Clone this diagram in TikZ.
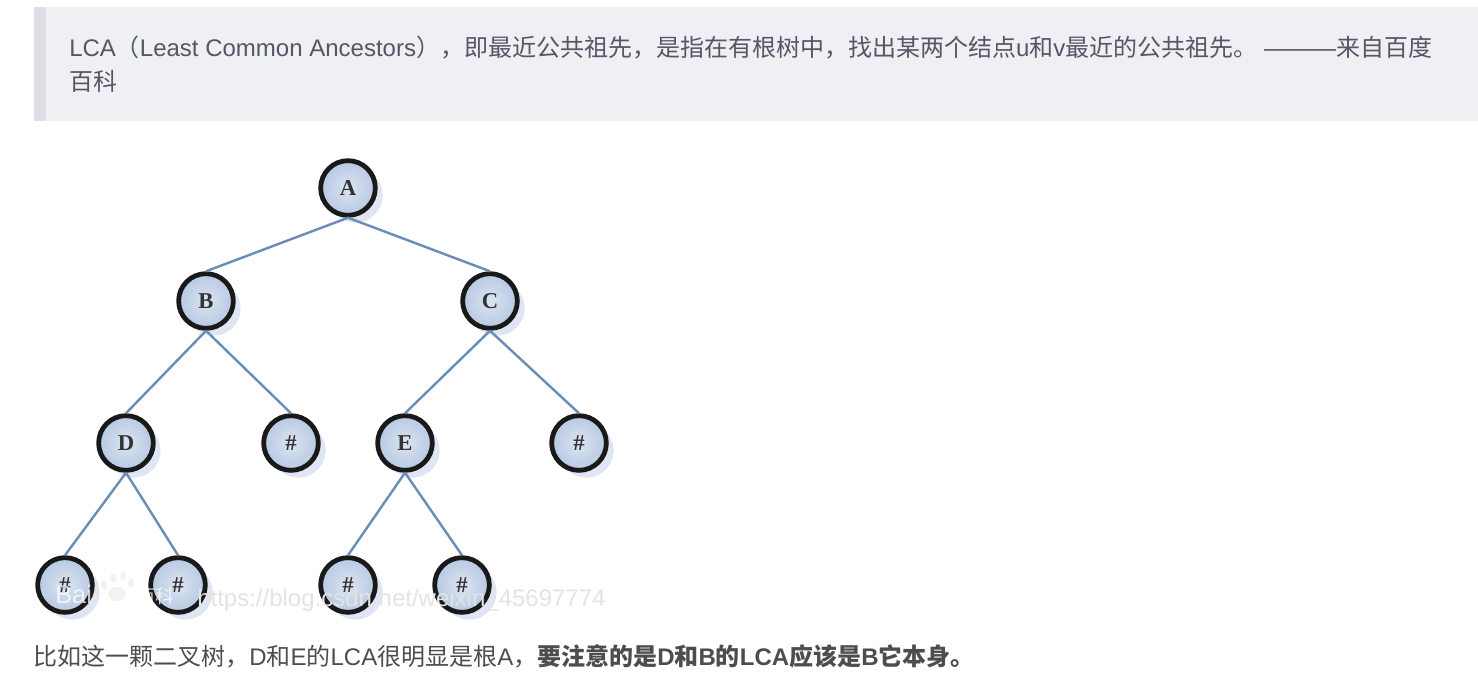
\documentclass[tikz,border=0pt]{standalone}
\usepackage{fontspec}
\setmainfont{Liberation Sans}
\newfontfamily\cjk{Noto Sans CJK SC}
\newfontfamily\treefont{Liberation Serif}
\newcommand{\zh}[1]{{\cjk #1}}
\usetikzlibrary{shadows}
\definecolor{quotebg}{HTML}{EEF0F4}
\definecolor{quotebar}{HTML}{DDDFE4}
\definecolor{quotetext}{HTML}{555666}
\definecolor{bodytext}{HTML}{4D4D4D}
\definecolor{edgeblue}{HTML}{6A8CB5}
\definecolor{shadowblue}{HTML}{DFE5F2}
\definecolor{nodeinner}{HTML}{DCE4F1}
\definecolor{nodeouter}{HTML}{B7C9E3}
\definecolor{pawgray}{HTML}{EFEFEF}
\tikzset{
	tnode/.style={circle, draw=black!90, line width=3.6pt, minimum size=41pt, inner sep=0pt,
		inner color=nodeinner, outer color=nodeouter, font=\treefont\bfseries\fontsize{17}{17}\selectfont,
		text=black!80, drop shadow={shadow xshift=5.5pt, shadow yshift=-5.5pt, fill=shadowblue, opacity=1}},
	tedge/.style={edgeblue, line width=1.8pt},
	line/.style={anchor=base west, inner sep=0pt, font=\fontsize{18}{22}\selectfont},
	paw/.style={pawgray, opacity=0.8}
}
\begin{document}
\begin{tikzpicture}[x=0.75pt,y=-0.75pt]
	\useasboundingbox (0,0) rectangle (1478,679);
	% quote block
	\fill [quotebg] (34,7) rectangle (1478,121);
	\fill [quotebar] (34,7) rectangle (46,121);
	\node [line, text=quotetext] (q1) at (69,56) {LCA\zh{（}Least Common Ancestors\zh{），即最近公共祖先，是指在有根树中，找出某两个结点}u\zh{和}v\zh{最近的公共祖先。} ———\zh{来自百度}};
	\node [line, text=quotetext] (q2) at (69,90) {\zh{百科}};
	% tree
	\node [tnode] (A) at (348,188) {A};
	\node [tnode] (B) at (206,301) {B};
	\node [tnode] (C) at (490,301) {C};
	\node [tnode] (D) at (126,443) {D};
	\node [tnode] (h1) at (291,443) {\#};
	\node [tnode] (E) at (405,443) {E};
	\node [tnode] (h2) at (579,443) {\#};
	\node [tnode] (h3) at (65,585) {\#};
	\node [tnode] (h4) at (178,585) {\#};
	\node [tnode] (h5) at (348,585) {\#};
	\node [tnode] (h6) at (462,585) {\#};
	\draw [tedge] (A.south) -- (B.north);
	\draw [tedge] (A.south) -- (C.north);
	\draw [tedge] (B.south) -- (D.north);
	\draw [tedge] (B.south) -- (h1.north);
	\draw [tedge] (C.south) -- (E.north);
	\draw [tedge] (C.south) -- (h2.north);
	\draw [tedge] (D.south) -- (h3.north);
	\draw [tedge] (D.south) -- (h4.north);
	\draw [tedge] (E.south) -- (h5.north);
	\draw [tedge] (E.south) -- (h6.north);
	% watermark
	\node [line, text=white, font=\fontsize{19}{22}\selectfont, text opacity=0.75] (w1) at (55,603) {Bai};
	\fill [paw] (117,594) ellipse (9 and 7);
	\fill [paw] (104,585) ellipse (3 and 5);
	\fill [paw] (113,578) ellipse (3 and 5);
	\fill [paw] (123,576) ellipse (3 and 5);
	\fill [paw] (131,583) ellipse (3 and 5);
	\node [line, text=white, font=\cjk\fontsize{14}{16}\selectfont, text opacity=0.75] (w2) at (137,603) {百科};
	\node [line, text=black!11] (w3) at (197,606) {https://blog.csdn.net/weixin\_45697774};
	% bottom line
	\node [line, text=bodytext] (t1) at (33,665) {\zh{比如这一颗二叉树，}D\zh{和}E\zh{的}LCA\zh{很明显是根}A\zh{，}\textbf{\zh{要注意的是}D\zh{和}B\zh{的}LCA\zh{应该是}B\zh{它本身。}}};
\end{tikzpicture}
\end{document}
